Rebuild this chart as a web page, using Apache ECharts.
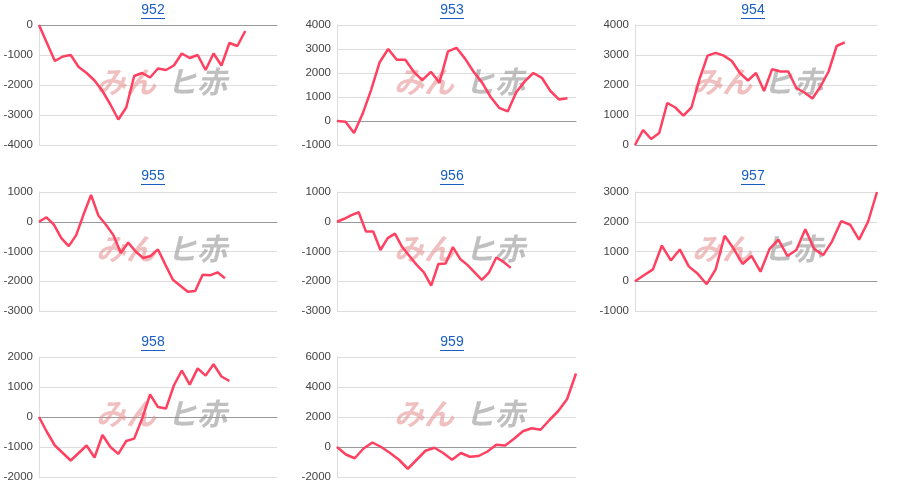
<!DOCTYPE html>
<html>
<head>
<meta charset="UTF-8">
<script src="https://cdn.jsdelivr.net/npm/echarts@6/dist/echarts.min.js"></script>
<style>
  * { margin: 0; padding: 0; }
  html, body { width: 100%; height: 100%; background: #fff; }
  #main { width: 900px; height: 498px; }
</style>
</head>
<body>
<div id="main"></div>
<script>
var names = ['952', '953', '954', '955', '956', '957', '958', '959'];
var catCounts = [31, 29, 31, 33, 34, 28, 31, 28];
var yMins = [-4000, -1000, 0, -3000, -3000, -1000, -2000, -2000];
var yMaxs = [0, 4000, 4000, 1000, 1000, 3000, 2000, 6000];
var yIntervals = [1000, 1000, 1000, 1000, 1000, 1000, 1000, 2000];

var s952 = [0, -600, -1200, -1050, -1000, -1400, -1600, -1850, -2200, -2650, -3150, -2750, -1700, -1600, -1750, -1450, -1500, -1350, -950, -1100, -1000, -1500, -950, -1350, -600, -700, -200];
var s953 = [0, -30, -500, 300, 1300, 2450, 3000, 2550, 2550, 2050, 1700, 2050, 1600, 2900, 3050, 2600, 2050, 1600, 1000, 550, 400, 1200, 1650, 2000, 1800, 1250, 900, 950];
var s954 = [0, 500, 200, 400, 1400, 1250, 980, 1250, 2200, 2980, 3070, 2980, 2800, 2400, 2150, 2400, 1800, 2530, 2450, 2450, 1900, 1750, 1550, 1950, 2450, 3300, 3420];
var s955 = [0, 150, -100, -550, -820, -450, 250, 900, 200, -100, -450, -1050, -700, -1000, -1220, -1150, -930, -1450, -1950, -2150, -2350, -2330, -1780, -1800, -1700, -1900];
var s956 = [0, 100, 220, 320, -330, -330, -950, -550, -400, -850, -1150, -1450, -1700, -2150, -1420, -1400, -850, -1250, -1450, -1700, -1950, -1700, -1200, -1350, -1550];
var s957 = [0, 200, 400, 1200, 700, 1070, 500, 250, -100, 400, 1530, 1100, 580, 850, 320, 1080, 1400, 850, 1050, 1750, 1080, 880, 1350, 2020, 1900, 1400, 2000, 3000];
var s958 = [0, -500, -950, -1200, -1450, -1200, -950, -1350, -600, -1000, -1230, -800, -720, -50, 750, 330, 280, 1050, 1550, 1080, 1620, 1380, 1760, 1350, 1200];
var s959 = [0, -500, -750, -100, 300, 0, -400, -850, -1450, -850, -250, -50, -400, -850, -400, -650, -600, -300, 150, 100, 550, 1050, 1250, 1150, 1800, 2400, 3200, 4900];
var seriesData = [s952, s953, s954, s955, s956, s957, s958, s959];

var colLeft = [39, 337, 635];
var colRight = [277, 576, 877];
var rowTop = [25, 192, 357];
var rowBottom = [145, 311, 477];
var titleX = [153, 452, 753];
var titleY = [10, 176, 342];

var grids = [], xAxes = [], yAxes = [], series = [], graphics = [];
names.forEach(function (n, i) {
    var c = i % 3, r = Math.floor(i / 3);
    grids.push({
        left: colLeft[c], width: colRight[c] - colLeft[c],
        top: rowTop[r], height: rowBottom[r] - rowTop[r]
    });
    var cats = [];
    for (var k = 0; k < catCounts[i]; k++) cats.push(k + 1);
    xAxes.push({
        type: 'category', gridIndex: i, data: cats, boundaryGap: false,
        axisLine: { onZero: true, lineStyle: { color: '#999' } },
        axisTick: { show: false }, axisLabel: { show: false }
    });
    yAxes.push({
        type: 'value', gridIndex: i, min: yMins[i], max: yMaxs[i], interval: yIntervals[i],
        axisLine: { show: true, lineStyle: { color: '#ddd' } },
        axisTick: { show: false },
        splitLine: { lineStyle: { color: '#ddd' } },
        axisLabel: {
            color: '#444', fontSize: 11.5, fontFamily: 'Arial, Liberation Sans', margin: 6,
            formatter: function (v) { return String(v); }
        }
    });
    series.push({
        type: 'line', xAxisIndex: i, yAxisIndex: i, data: seriesData[i],
        symbol: 'none', lineStyle: { color: '#ff4060', width: 2.5 }, z: 5
    });
    graphics.push({
        type: 'text', x: titleX[c], y: titleY[r], z: 10,
        style: {
            text: n, fill: '#1a5fc0', font: '14px Arial, "Liberation Sans"',
            textAlign: 'center', textVerticalAlign: 'middle'
        }
    });
    graphics.push({
        type: 'rect', shape: { x: titleX[c] - 12, y: titleY[r] + 8, width: 24, height: 1 },
        style: { fill: '#1a5fc0' }
    });
    var wy = (rowTop[r] + rowBottom[r]) / 2 - 18;
    graphics.push({
        type: 'text', x: colLeft[c] + 57, y: wy, z: 1,
        style: { text: 'みん', fill: 'rgba(225,130,130,0.5)', font: 'italic bold 30px "Noto Sans CJK JP"' }
    });
    graphics.push({
        type: 'text', x: colLeft[c] + 128, y: wy, z: 1,
        style: { text: 'ヒ赤', fill: 'rgba(140,140,140,0.55)', font: 'italic bold 30px "Noto Sans CJK JP"' }
    });
});

var chart = echarts.init(document.getElementById('main'));
chart.setOption({
    animation: false,
    grid: grids,
    xAxis: xAxes,
    yAxis: yAxes,
    series: series,
    graphic: graphics
});
</script>
</body>
</html>
